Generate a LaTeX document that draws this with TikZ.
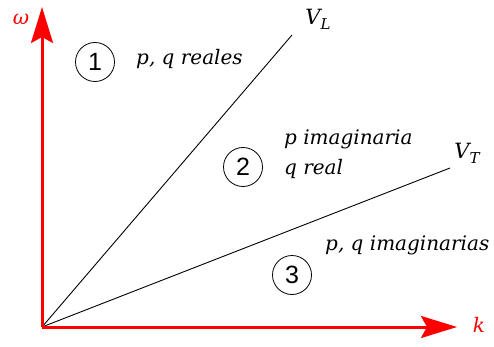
\documentclass[tikz,border=0pt]{standalone}
\usepackage{fontspec}
\setmainfont{DejaVu Serif}
\newfontfamily\numfont{Liberation Sans}
\usetikzlibrary{arrows.meta}
\newcommand{\velsub}[2]{#1\raisebox{-5pt}{\fontsize{15}{15}\selectfont #2}}
\begin{document}
\begin{tikzpicture}[x=1pt,y=-1pt,
  axis/.style={red,line width=3pt,-{Stealth[length=36pt,width=22pt,inset=6pt]}},
  ray/.style={black,line width=0.9pt},
  num/.style={circle,draw,line width=0.8pt,minimum size=39pt,inner sep=0pt,font=\numfont\fontsize{25}{25}\selectfont},
  lbl/.style={font=\itshape\fontsize{20}{22}\selectfont,anchor=base west,inner sep=0pt},
  axl/.style={red,font=\itshape\fontsize{20}{20}\selectfont,inner sep=0pt},
  vl/.style={font=\itshape\fontsize{21}{21}\selectfont,inner sep=0pt}]
\useasboundingbox (0,0) rectangle (494,347);
\coordinate (O) at (42,327);
\coordinate (Ytop) at (42,7);
\coordinate (Xend) at (457,327);
\coordinate (L) at (292,35);
\coordinate (T) at (450,168);
\draw[ray] (O) -- (L);
\draw[ray] (O) -- (T);
\draw[axis] (O) -- (Ytop);
\draw[axis] (O) -- (Xend);
\node[axl] (w) at (21,19) {ω};
\node[axl] (k) at (479,325) {k};
\node[vl] (VL) at (318,19) {\velsub{V}{L}};
\node[vl] (VT) at (467,153) {\velsub{V}{T}};
\node[num] (c1) at (95,62) {1};
\node[num] (c2) at (243,167) {2};
\node[num] (c3) at (292,275) {3};
\node[lbl] (t1) at (136,65) {p, q reales};
\node[lbl] (t2) at (284,145) {p imaginaria};
\node[lbl] (t3) at (284,175) {q real};
\node[lbl] (t4) at (325,250) {p, q imaginarias};
\end{tikzpicture}
\end{document}
